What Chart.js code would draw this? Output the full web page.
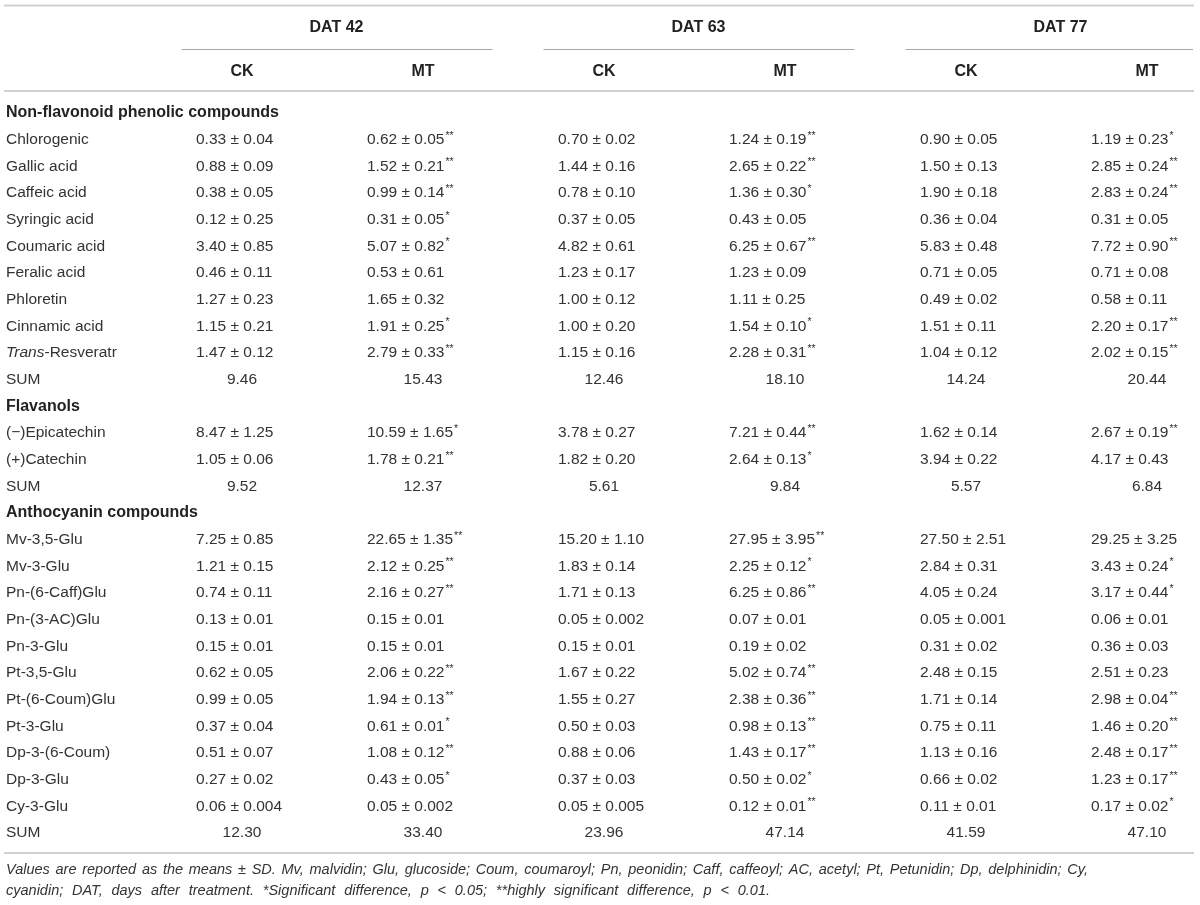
<!DOCTYPE html>
<html>
<head>
<meta charset="utf-8">
<title>Phenolic compounds table</title>
<script src="https://cdn.jsdelivr.net/npm/chart.js@4.4.1/dist/chart.umd.min.js"></script>
<style>
  html, body { margin: 0; padding: 0; background: #ffffff; }
  #wrap { width: 1200px; height: 905px; }
</style>
</head>
<body>
<div id="wrap"><canvas id="myChart" width="1200" height="905"></canvas></div>
<script>
'use strict'

// header groups and columns
const days = ['DAT 42', 'DAT 63', 'DAT 77'];
const treatments = ['CK', 'MT', 'CK', 'MT', 'CK', 'MT'];

// row labels, section rows marked in rowKinds
const rowLabels = [
  'Non-flavonoid phenolic compounds', 'Chlorogenic', 'Gallic acid', 'Caffeic acid', 'Syringic acid',
  'Coumaric acid', 'Feralic acid', 'Phloretin', 'Cinnamic acid', 'Trans-Resveratr', 'SUM',
  'Flavanols', '(\u2212)Epicatechin', '(+)Catechin', 'SUM',
  'Anthocyanin compounds', 'Mv-3,5-Glu', 'Mv-3-Glu', 'Pn-(6-Caff)Glu', 'Pn-(3-AC)Glu', 'Pn-3-Glu',
  'Pt-3,5-Glu', 'Pt-(6-Coum)Glu', 'Pt-3-Glu', 'Dp-3-(6-Coum)', 'Dp-3-Glu', 'Cy-3-Glu', 'SUM'
];
const rowKinds = [
  'head', 'item', 'item', 'item', 'item', 'item', 'item', 'item', 'item', 'item', 'sum',
  'head', 'item', 'item', 'sum',
  'head', 'item', 'item', 'item', 'item', 'item', 'item', 'item', 'item', 'item', 'item', 'item', 'sum'
];

// mean ± SD per column (asterisks = significance)
const ck42 = ['', '0.33 ± 0.04', '0.88 ± 0.09', '0.38 ± 0.05', '0.12 ± 0.25', '3.40 ± 0.85', '0.46 ± 0.11',
  '1.27 ± 0.23', '1.15 ± 0.21', '1.47 ± 0.12', '9.46',
  '', '8.47 ± 1.25', '1.05 ± 0.06', '9.52',
  '', '7.25 ± 0.85', '1.21 ± 0.15', '0.74 ± 0.11', '0.13 ± 0.01', '0.15 ± 0.01', '0.62 ± 0.05',
  '0.99 ± 0.05', '0.37 ± 0.04', '0.51 ± 0.07', '0.27 ± 0.02', '0.06 ± 0.004', '12.30'];
const mt42 = ['', '0.62 ± 0.05**', '1.52 ± 0.21**', '0.99 ± 0.14**', '0.31 ± 0.05*', '5.07 ± 0.82*', '0.53 ± 0.61',
  '1.65 ± 0.32', '1.91 ± 0.25*', '2.79 ± 0.33**', '15.43',
  '', '10.59 ± 1.65*', '1.78 ± 0.21**', '12.37',
  '', '22.65 ± 1.35**', '2.12 ± 0.25**', '2.16 ± 0.27**', '0.15 ± 0.01', '0.15 ± 0.01', '2.06 ± 0.22**',
  '1.94 ± 0.13**', '0.61 ± 0.01*', '1.08 ± 0.12**', '0.43 ± 0.05*', '0.05 ± 0.002', '33.40'];
const ck63 = ['', '0.70 ± 0.02', '1.44 ± 0.16', '0.78 ± 0.10', '0.37 ± 0.05', '4.82 ± 0.61', '1.23 ± 0.17',
  '1.00 ± 0.12', '1.00 ± 0.20', '1.15 ± 0.16', '12.46',
  '', '3.78 ± 0.27', '1.82 ± 0.20', '5.61',
  '', '15.20 ± 1.10', '1.83 ± 0.14', '1.71 ± 0.13', '0.05 ± 0.002', '0.15 ± 0.01', '1.67 ± 0.22',
  '1.55 ± 0.27', '0.50 ± 0.03', '0.88 ± 0.06', '0.37 ± 0.03', '0.05 ± 0.005', '23.96'];
const mt63 = ['', '1.24 ± 0.19**', '2.65 ± 0.22**', '1.36 ± 0.30*', '0.43 ± 0.05', '6.25 ± 0.67**', '1.23 ± 0.09',
  '1.11 ± 0.25', '1.54 ± 0.10*', '2.28 ± 0.31**', '18.10',
  '', '7.21 ± 0.44**', '2.64 ± 0.13*', '9.84',
  '', '27.95 ± 3.95**', '2.25 ± 0.12*', '6.25 ± 0.86**', '0.07 ± 0.01', '0.19 ± 0.02', '5.02 ± 0.74**',
  '2.38 ± 0.36**', '0.98 ± 0.13**', '1.43 ± 0.17**', '0.50 ± 0.02*', '0.12 ± 0.01**', '47.14'];
const ck77 = ['', '0.90 ± 0.05', '1.50 ± 0.13', '1.90 ± 0.18', '0.36 ± 0.04', '5.83 ± 0.48', '0.71 ± 0.05',
  '0.49 ± 0.02', '1.51 ± 0.11', '1.04 ± 0.12', '14.24',
  '', '1.62 ± 0.14', '3.94 ± 0.22', '5.57',
  '', '27.50 ± 2.51', '2.84 ± 0.31', '4.05 ± 0.24', '0.05 ± 0.001', '0.31 ± 0.02', '2.48 ± 0.15',
  '1.71 ± 0.14', '0.75 ± 0.11', '1.13 ± 0.16', '0.66 ± 0.02', '0.11 ± 0.01', '41.59'];
const mt77 = ['', '1.19 ± 0.23*', '2.85 ± 0.24**', '2.83 ± 0.24**', '0.31 ± 0.05', '7.72 ± 0.90**', '0.71 ± 0.08',
  '0.58 ± 0.11', '2.20 ± 0.17**', '2.02 ± 0.15**', '20.44',
  '', '2.67 ± 0.19**', '4.17 ± 0.43', '6.84',
  '', '29.25 ± 3.25', '3.43 ± 0.24*', '3.17 ± 0.44*', '0.06 ± 0.01', '0.36 ± 0.03', '2.51 ± 0.23',
  '2.98 ± 0.04**', '1.46 ± 0.20**', '2.48 ± 0.17**', '1.23 ± 0.17**', '0.17 ± 0.02*', '47.10'];

const columnValues = [ck42, mt42, ck63, mt63, ck77, mt77];

// footnote lines
const notes = [
  'Values are reported as the means ± SD. Mv, malvidin; Glu, glucoside; Coum, coumaroyl; Pn, peonidin; Caff, caffeoyl; AC, acetyl; Pt, Petunidin; Dp, delphinidin; Cy,',
  'cyanidin; DAT, days after treatment. *Significant difference, p < 0.05; **highly significant difference, p < 0.01.'
];

// layout / styles (not data)
const FONT = '"Liberation Sans", Arial, Helvetica, sans-serif';
const TEXT = '#333333';
const RULE = '#cfcfcf';
const cellIndent = { CK: 46, MT: 56 };   // values are left aligned inside a column
const noteWidths = [1082, 764];

// draws a value and puts the asterisks up as superscript
function drawValue(ctx, str, x, y, align) {
  let stars = '';
  let m = str.match(/\*+$/);
  if (m) {
    stars = m[0];
    str = str.slice(0, -stars.length);
  }
  ctx.font = '15.5px ' + FONT;
  let w = ctx.measureText(str).width;
  let left = align === 'center' ? x - w / 2 : x;
  ctx.textAlign = 'left';
  ctx.fillText(str, left, y);
  if (stars) {
    ctx.font = '10.5px ' + FONT;
    ctx.fillText(stars, left + w + 1, y - 4);
  }
}

// footnote lines are spread to a width, like the journal layout
function drawSpread(ctx, text, x, y, width) {
  let words = text.split(' ');
  let total = 0;
  words.forEach(function (wd) { total += ctx.measureText(wd).width; });
  let gap = (width - total) / (words.length - 1);
  let scale = 1;
  if (gap < 2) {
    gap = ctx.measureText(' ').width;
    scale = width / (total + gap * (words.length - 1));
  }
  ctx.save();
  ctx.translate(x, y);
  ctx.scale(scale, 1);
  let cx = 0;
  words.forEach(function (wd) {
    ctx.fillText(wd, cx, 0);
    cx += ctx.measureText(wd).width + gap;
  });
  ctx.restore();
}

const tablePlugin = {
  id: 'tableText',
  afterDraw(chart) {
    const ctx = chart.ctx;
    const xs = chart.scales.x;
    const ys = chart.scales.y;
    const top = ys.getPixelForValue(0);
    const bottom = ys.getPixelForValue(rowLabels.length - 1);

    ctx.save();
    ctx.textBaseline = 'middle';

    // rules
    ctx.strokeStyle = RULE;
    ctx.lineWidth = 2;
    [top - 107.5, top - 22, bottom + 20].forEach(function (ly) {
      ctx.beginPath();
      ctx.moveTo(4, ly);
      ctx.lineTo(1194, ly);
      ctx.stroke();
    });

    // DAT group headers with their underline
    ctx.fillStyle = '#222222';
    ctx.font = 'bold 16px ' + FONT;
    ctx.textAlign = 'center';
    days.forEach(function (d, i) {
      let mid = (xs.getPixelForValue(i * 2) + xs.getPixelForValue(i * 2 + 1)) / 2;
      ctx.fillText(d, mid + 4, top - 85);
      ctx.strokeStyle = '#a8a8a8';
      ctx.lineWidth = 1.2;
      ctx.beginPath();
      ctx.moveTo(mid - 151, top - 63.5);
      ctx.lineTo(Math.min(mid + 160, 1193), top - 63.5);
      ctx.stroke();
    });

    // CK / MT headers
    treatments.forEach(function (t, i) {
      ctx.fillText(t, xs.getPixelForValue(i), top - 41);
    });

    // body rows
    rowLabels.forEach(function (label, r) {
      let y = ys.getPixelForValue(r);
      ctx.textAlign = 'left';
      if (rowKinds[r] === 'head') {
        ctx.fillStyle = '#222222';
        ctx.font = 'bold 16px ' + FONT;
        ctx.fillText(label, 6, y);
        return;
      }
      ctx.fillStyle = TEXT;
      if (label.startsWith('Trans')) {
        ctx.font = 'italic 15.5px ' + FONT;
        ctx.fillText('Trans', 6, y);
        let w = ctx.measureText('Trans').width;
        ctx.font = '15.5px ' + FONT;
        ctx.fillText(label.slice(5), 6 + w, y);
      } else {
        ctx.font = '15.5px ' + FONT;
        ctx.fillText(label, 6, y);
      }
      columnValues.forEach(function (col, c) {
        let cx = xs.getPixelForValue(c);
        if (rowKinds[r] === 'sum') {
          drawValue(ctx, col[r], cx, y, 'center');
        } else {
          drawValue(ctx, col[r], cx - cellIndent[treatments[c]], y, 'left');
        }
      });
    });

    // footnote
    ctx.fillStyle = TEXT;
    ctx.font = 'italic 14.5px ' + FONT;
    ctx.textBaseline = 'alphabetic';
    ctx.textAlign = 'left';
    notes.forEach(function (line, i) {
      drawSpread(ctx, line, 6, bottom + 41 + i * 21, noteWidths[i]);
    });
    ctx.restore();
  }
};

// the table is laid on a category x scale (columns) and a category y scale (rows)
let config = {
  type: 'scatter',
  data: { datasets: [] },
  options: {
    responsive: false,
    animation: false,
    layout: { padding: { left: 242, right: 53, top: 113, bottom: 72 } },
    plugins: { legend: { display: false }, tooltip: { enabled: false } },
    scales: {
      x: { type: 'category', labels: treatments, offset: false, display: false },
      y: { type: 'category', labels: rowLabels, offset: false, display: false }
    }
  },
  plugins: [tablePlugin]
};

const ctx = document.getElementById('myChart').getContext('2d');
const myChart = new Chart(ctx, config);
</script>
</body>
</html>
